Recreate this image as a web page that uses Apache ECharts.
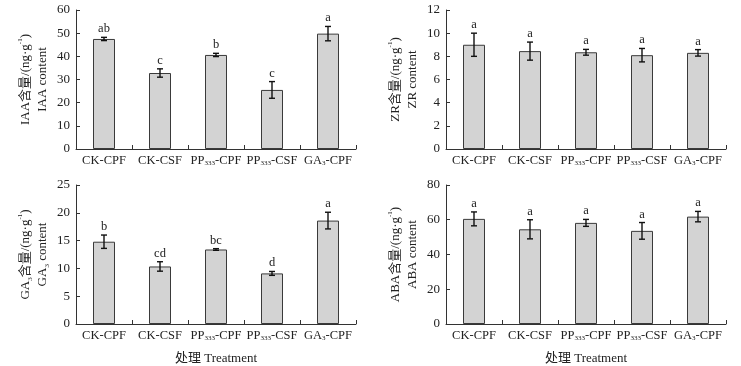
<!DOCTYPE html>
<html>
<head>
<meta charset="utf-8">
<script src="https://cdn.jsdelivr.net/npm/echarts@6/dist/echarts.min.js"></script>
<style>
  html, body { margin: 0; padding: 0; background: #fff; }
  #main { width: 741px; height: 366px; }
</style>
</head>
<body>
<div id="main"></div>
<script>
var categories = ["CK-CPF", "CK-CSF", "PP333-CPF", "PP333-CSF", "GA3-CPF"];

// IAA
var iaaMean = [47.5, 32.8, 40.6, 25.5, 49.8];
var iaaErr = [0.7, 1.8, 0.7, 3.6, 3.1];
var iaaLetters = ["ab", "c", "b", "c", "a"];
// ZR
var zrMean = [9.0, 8.45, 8.35, 8.1, 8.3];
var zrErr = [1.0, 0.78, 0.25, 0.58, 0.28];
var zrLetters = ["a", "a", "a", "a", "a"];
// GA3
var gaMean = [14.8, 10.35, 13.4, 9.1, 18.6];
var gaErr = [1.2, 0.85, 0.15, 0.35, 1.5];
var gaLetters = ["b", "cd", "bc", "d", "a"];
// ABA
var abaMean = [60.5, 54.5, 58.2, 53.6, 61.8];
var abaErr = [4.0, 5.5, 2.0, 4.8, 3.0];
var abaLetters = ["a", "a", "a", "a", "a"];

var serif = "Liberation Serif, 'Times New Roman', 'Noto Sans CJK SC', serif";
var lineColor = "#333";

var panels = [
    { mean: iaaMean, err: iaaErr, letters: iaaLetters, max: 60, interval: 10,
      name: "IAA含量/(ng·g{sup|-1})\nIAA content", left: 76, top: 10, xName: "" },
    { mean: zrMean, err: zrErr, letters: zrLetters, max: 12, interval: 2,
      name: "ZR含量/(ng·g{sup|-1})\nZR content", left: 446, top: 10, xName: "" },
    { mean: gaMean, err: gaErr, letters: gaLetters, max: 25, interval: 5,
      name: "GA{sub|3}含量/(ng·g{sup|-1})\nGA{sub|3} content", left: 76, top: 185, xName: "处理 Treatment" },
    { mean: abaMean, err: abaErr, letters: abaLetters, max: 80, interval: 20,
      name: "ABA含量/(ng·g{sup|-1})\nABA content", left: 446, top: 185, xName: "处理 Treatment" }
];

function catLabel(v) {
    return v.replace("PP333", "PP{sub|333}").replace("GA3", "GA{sub|3}");
}

var richText = {
    sub: { fontFamily: serif, fontSize: 7, color: "#222", verticalAlign: "bottom", padding: [6, 0, 0, 0] },
    sup: { fontFamily: serif, fontSize: 7, color: "#222", verticalAlign: "top", padding: [0, 0, 6, 0] }
};

var grids = [], xAxes = [], yAxes = [], series = [];

panels.forEach(function(p, k) {
    grids.push({ left: p.left, top: p.top, width: 280, height: 139 });
    xAxes.push({
        type: "category", gridIndex: k, data: categories,
        name: p.xName, nameLocation: "middle", nameGap: 28,
        nameTextStyle: { fontFamily: serif, fontSize: 13, color: "#222" },
        axisLine: { lineStyle: { color: lineColor, width: 1 } },
        axisTick: { show: true, inside: true, length: 4, lineStyle: { color: lineColor, width: 1 } },
        axisLabel: {
            interval: 0, hideOverlap: false,
            fontFamily: serif, fontSize: 12.5, color: "#222", margin: 5,
            formatter: catLabel, rich: richText
        }
    });
    yAxes.push({
        type: "value", gridIndex: k, min: 0, max: p.max, interval: p.interval,
        name: p.name, nameLocation: "middle", nameRotate: 90, nameGap: 25,
        nameTextStyle: { fontFamily: serif, fontSize: 13, color: "#222", lineHeight: 17, rich: richText },
        splitLine: { show: false },
        axisLine: { show: true, lineStyle: { color: lineColor, width: 1 } },
        axisTick: { show: true, inside: true, length: 4, lineStyle: { color: lineColor, width: 1 } },
        axisLabel: { fontFamily: serif, fontSize: 13, color: "#222", margin: 6 }
    });
    series.push({
        type: "bar", xAxisIndex: k, yAxisIndex: k, data: p.mean, barWidth: 22,
        itemStyle: { color: "#d3d3d3", borderColor: "#3a3a3a", borderWidth: 1 },
        silent: true
    });
    series.push({
        type: "custom", xAxisIndex: k, yAxisIndex: k, silent: true, z: 5,
        data: p.mean.map(function(m, i) { return [i, m - p.err[i], m + p.err[i]]; }),
        renderItem: function(params, api) {
            var i = api.value(0);
            var lo = api.coord([i, api.value(1)]);
            var hi = api.coord([i, api.value(2)]);
            var x = lo[0], w = 3;
            var st = { stroke: "#111", lineWidth: 1.4 };
            return {
                type: "group",
                children: [
                    { type: "line", shape: { x1: x, y1: lo[1], x2: x, y2: hi[1] }, style: st },
                    { type: "line", shape: { x1: x - w, y1: lo[1], x2: x + w, y2: lo[1] }, style: st },
                    { type: "line", shape: { x1: x - w, y1: hi[1], x2: x + w, y2: hi[1] }, style: st },
                    { type: "text", x: x, y: hi[1] - 2,
                      style: { text: p.letters[params.dataIndex], fontFamily: serif, fontSize: 12.5,
                               fill: "#222", align: "center", verticalAlign: "bottom" } }
                ]
            };
        }
    });
});

var chart = echarts.init(document.getElementById("main"));
chart.setOption({
    animation: false,
    grid: grids,
    xAxis: xAxes,
    yAxis: yAxes,
    series: series
});
</script>
</body>
</html>
